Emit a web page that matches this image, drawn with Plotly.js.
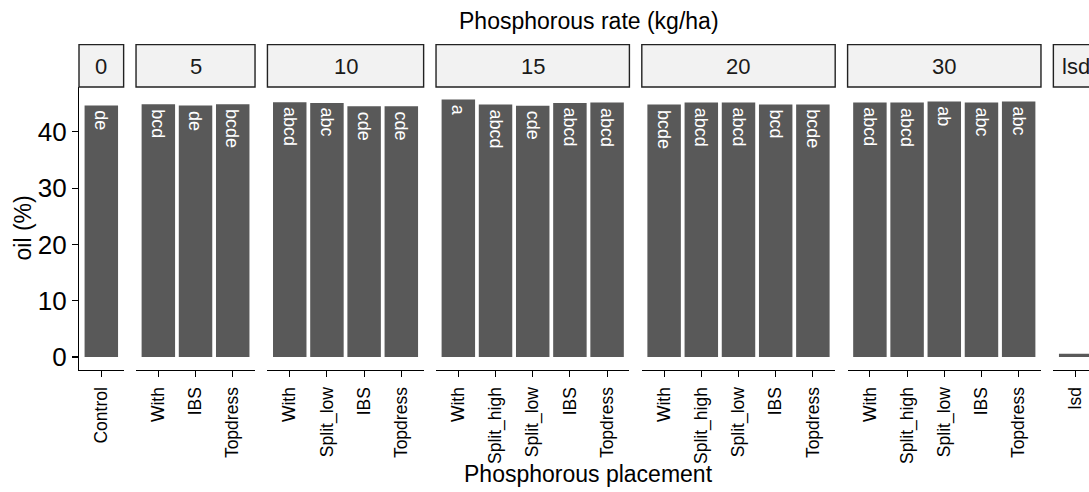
<!DOCTYPE html>
<html><head><meta charset="utf-8">
<script src="https://cdn.plot.ly/plotly-3.0.1.min.js"></script>
<style>
html,body{margin:0;padding:0;overflow:hidden;background:#fff;width:1089px;height:492px}
#chart{width:1098px;height:492px}
</style>
</head><body><div id="chart"></div>
<script>
// ---- data ----
const rates = ["0", "5", "10", "15", "20", "30", "lsd"];

const placement_0 = ["Control"];
const placement_5 = ["With", "IBS", "Topdress"];
const placement_10 = ["With", "Split_low", "IBS", "Topdress"];
const placement_15 = ["With", "Split_high", "Split_low", "IBS", "Topdress"];
const placement_20 = ["With", "Split_high", "Split_low", "IBS", "Topdress"];
const placement_30 = ["With", "Split_high", "Split_low", "IBS", "Topdress"];
const placement_lsd = ["lsd"];

const oil_0 = [44.65];
const oil_5 = [44.90, 44.65, 44.90];
const oil_10 = [45.24, 45.13, 44.53, 44.53];
const oil_15 = [45.72, 44.83, 44.60, 45.13, 45.19];
const oil_20 = [44.83, 45.19, 45.19, 44.83, 44.83];
const oil_30 = [45.19, 45.19, 45.36, 45.19, 45.36];
const oil_lsd = [0.60];

const letters_0 = ["de"];
const letters_5 = ["bcd", "de", "bcde"];
const letters_10 = ["abcd", "abc", "cde", "cde"];
const letters_15 = ["a", "abcd", "cde", "abcd", "abcd"];
const letters_20 = ["bcde", "abcd", "abcd", "bcd", "bcde"];
const letters_30 = ["abcd", "abcd", "ab", "abc", "abc"];
const letters_lsd = [""];

const yTicks = [0, 10, 20, 30, 40];
const titleTop = "Phosphorous rate (kg/ha)";
const titleX = "Phosphorous placement";
const titleY = "oil (%)";

// ---- layout geometry ----
const panels = [
  {rate: rates[0], cats: placement_0, vals: oil_0, labs: letters_0},
  {rate: rates[1], cats: placement_5, vals: oil_5, labs: letters_5},
  {rate: rates[2], cats: placement_10, vals: oil_10, labs: letters_10},
  {rate: rates[3], cats: placement_15, vals: oil_15, labs: letters_15},
  {rate: rates[4], cats: placement_20, vals: oil_20, labs: letters_20},
  {rate: rates[5], cats: placement_30, vals: oil_30, labs: letters_30},
  {rate: rates[6], cats: placement_lsd, vals: oil_lsd, labs: letters_lsd}
];

const W = 1098, H = 492;
const L = 79, R = 0, T = 86.5, Bpx = 370.3;
const plotW = W - L - R, plotH = Bpx - T;
const gap = 12.4;
const totalUnits = panels.reduce((s, p) => s + p.cats.length + 0.2, 0);
const unit = (plotW - gap * (panels.length - 1)) / totalUnits;

const font = "Liberation Sans, Arial, Helvetica, sans-serif";
const py = p => (Bpx - p) / plotH;      // pixel y -> paper y
const px = p => (p - L) / plotW;        // pixel x -> paper x

const data = [];
const layout = {
  width: W, height: H,
  margin: {l: L, r: R, t: T, b: H - Bpx, pad: 0},
  paper_bgcolor: "#fff", plot_bgcolor: "rgba(0,0,0,0)",
  showlegend: false,
  font: {family: font, color: "#000"},
  shapes: [], annotations: [],
  yaxis: {
    domain: [0, 1], range: [-2.30, 47.95], anchor: "x",
    tickmode: "array", tickvals: yTicks, ticktext: yTicks.map(String),
    showline: true, linecolor: "#000", linewidth: 1.1,
    ticks: "outside", ticklen: 6, tickcolor: "#000", tickwidth: 1.1,
    tickfont: {size: 26, color: "#000", family: font},
    showgrid: false, zeroline: false, fixedrange: true, automargin: false
  }
};

let start = 0;
panels.forEach((p, i) => {
  const n = p.cats.length;
  const w = (n + 0.2) * unit;
  const d0 = start / plotW, d1 = Math.min(1, (start + w) / plotW);
  const axName = i === 0 ? "xaxis" : "xaxis" + (i + 1);
  const axRef = i === 0 ? "x" : "x" + (i + 1);
  layout[axName] = {
    domain: [d0, d1], anchor: "y", type: "category",
    categoryorder: "array", categoryarray: p.cats,
    range: [-0.6, n - 0.4],
    showline: true, linecolor: "#000", linewidth: 1.1,
    ticks: "outside", ticklen: 6, tickcolor: "#000", tickwidth: 1.1,
    tickangle: -90, ticklabelstandoff: 3,
    tickfont: {size: 17.5, color: "#000", family: font},
    showgrid: false, zeroline: false, fixedrange: true, automargin: false
  };
  data.push({
    type: "bar", x: p.cats, y: p.vals, xaxis: axRef, yaxis: "y",
    width: 0.9, marker: {color: "#595959", line: {width: 0}},
    hoverinfo: "skip"
  });
  p.cats.forEach((c, j) => {
    if (!p.labs[j]) return;
    layout.annotations.push({
      xref: axRef, yref: "y", x: c, y: p.vals[j], text: p.labs[j],
      textangle: 90, xanchor: "center", yanchor: "top", yshift: -3,
      showarrow: false, font: {size: 18, color: "#fff", family: font}
    });
  });
  // strip
  layout.shapes.push({
    type: "rect", xref: "paper", yref: "paper",
    x0: d0, x1: (start + w) / plotW, y0: 1, y1: py(44),
    fillcolor: "#f2f2f2", line: {color: "#222", width: 1.4}, layer: "above"
  });
  layout.annotations.push({
    xref: "paper", yref: "paper", x: (start + w / 2) / plotW, y: py(65.5),
    xanchor: "center", yanchor: "middle", text: p.rate, showarrow: false,
    font: {size: 22, color: "#1a1a1a", family: font}
  });
  start += w + gap;
});

layout.annotations.push({
  xref: "paper", yref: "paper", x: 0.5, y: py(20), xanchor: "center", yanchor: "middle",
  text: titleTop, showarrow: false, font: {size: 23, color: "#000", family: font}
});
layout.annotations.push({
  xref: "paper", yref: "paper", x: 0.5, y: py(475), xanchor: "center", yanchor: "middle",
  text: titleX, showarrow: false, font: {size: 23, color: "#000", family: font}
});
layout.annotations.push({
  xref: "paper", yref: "paper", x: px(22), y: 0.5, xanchor: "center", yanchor: "middle",
  textangle: -90, text: titleY, showarrow: false, font: {size: 23, color: "#000", family: font}
});

Plotly.newPlot("chart", data, layout, {staticPlot: true, displayModeBar: false, responsive: false});
</script>
</body></html>
